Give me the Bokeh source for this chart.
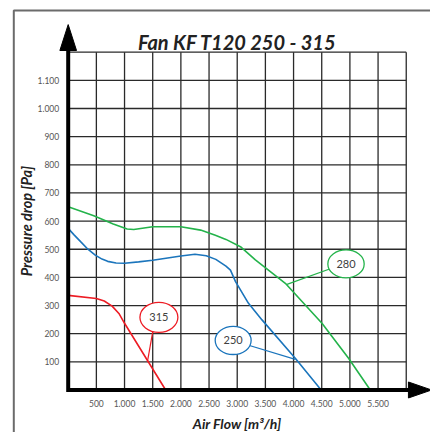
import math
from bokeh.plotting import figure
from bokeh.models import Range1d, FixedTicker, Label
from bokeh.core.properties import value
from bokeh.embed import file_html
from bokeh.resources import INLINE

# ---------------- data ----------------
title_text = "Fan KF T120 250 - 315"
x_label = "Air Flow [m³/h]"
y_label = "Pressure drop [Pa]"

x_ticks = [500, 1000, 1500, 2000, 2500, 3000, 3500, 4000, 4500, 5000, 5500]
x_tick_labels = ["500", "1.000", "1.500", "2.000", "2.500", "3.000",
                 "3.500", "4.000", "4.500", "5.000", "5.500"]
y_ticks = [100, 200, 300, 400, 500, 600, 700, 800, 900, 1000, 1100]
y_tick_labels = ["100", "200", "300", "400", "500", "600", "700",
                 "800", "900", "1.000", "1.100"]
grid_x = [500, 1000, 1500, 2000, 2500, 3000, 3500, 4000, 4500, 5000, 5500, 6000]
grid_y = [100, 200, 300, 400, 500, 600, 700, 800, 900, 1000, 1100, 1200]
x_max = 6000
y_max = 1200

# fan 315 (red)
red_x = [0, 500, 640, 780, 900, 1000, 1730]
red_y = [336, 325, 316, 298, 272, 237, 0]
# fan 250 (blue)
blue_x = [0, 100, 220, 350, 480, 600, 700, 850, 1000, 1250, 1500, 2000,
          2250, 2450, 2620, 2800, 2880, 2970, 3200, 3440, 4030, 4490]
blue_y = [574, 552, 527, 500, 479, 465, 457, 451, 450, 455, 461, 476,
          482, 477, 464, 440, 426, 385, 308, 249, 113, 0]
# fan 280 (green)
green_x = [0, 454, 800, 1046, 1164, 1500, 2000, 2350, 2612, 2800, 3057,
           3322, 3854, 4504, 4976, 5362]
green_y = [651, 619, 590, 572, 570, 580, 580, 568, 550, 535, 509,
           462, 379, 237, 113, 0]

callout_names = ["315", "250", "280"]
callout_x = [1610, 2928, 4931]
callout_y = [258, 176, 448]
callout_w = [674, 638, 645]
callout_h = [106, 100, 99]
leader_x0 = [1530, 3100, 4750]
leader_y0 = [240, 165, 438]
leader_x1 = [1405, 4031, 3883]
leader_y1 = [99, 109, 375]
callout_colors = ["#ed1c24", "#1b75bc", "#24b34b"]

# ---------------- figure ----------------
p = figure(width=430, height=432,
           x_range=Range1d(-1006.4, 6430.6), y_range=Range1d(-151.0, 1355.2),
           output_backend="svg", toolbar_location=None,
           min_border_left=11, min_border_top=8, min_border_right=0, min_border_bottom=0)
p.outline_line_color = None
p.grid.visible = False
p.background_fill_color = "white"
p.border_fill_color = "white"

for ax in (p.xaxis[0], p.yaxis[0]):
    ax.fixed_location = 0
    ax.axis_line_color = None
    ax.major_tick_line_color = None
    ax.minor_tick_line_color = None
    ax.major_tick_in = 0
    ax.major_tick_out = 0
    ax.major_label_text_font = "Lato"
    ax.major_label_text_font_size = "8.5px"
    ax.major_label_text_color = "#555555"

p.xaxis.ticker = FixedTicker(ticks=x_ticks)
p.xaxis.major_label_overrides = dict(zip(x_ticks, x_tick_labels))
p.xaxis.major_label_standoff = 10
p.yaxis.ticker = FixedTicker(ticks=y_ticks)
p.yaxis.major_label_overrides = dict(zip(y_ticks, y_tick_labels))
p.yaxis.major_label_standoff = 9

# outer border (top and left)
p.line(x=[-965.6, -965.6, 6500], y=[-200, 1348, 1348], line_color="#6b6b6b", line_width=2)

# grid
p.segment(x0=grid_x, y0=[0] * len(grid_x), x1=grid_x, y1=[y_max] * len(grid_x),
          line_color="#2a2a2a", line_width=1.3)
p.segment(x0=[0] * len(grid_y), y0=grid_y, x1=[x_max] * len(grid_y), y1=grid_y,
          line_color="#2a2a2a", line_width=1.3)

# curves
p.line(red_x, red_y, line_color=callout_colors[0], line_width=1.6)
p.line(blue_x, blue_y, line_color=callout_colors[1], line_width=1.6)
p.line(green_x, green_y, line_color=callout_colors[2], line_width=1.6)

# callouts
p.segment(x0=leader_x0, y0=leader_y0, x1=leader_x1, y1=leader_y1,
          line_color=callout_colors, line_width=1.2)
p.ellipse(x=callout_x, y=callout_y, width=callout_w, height=callout_h,
          fill_color="white", line_color=callout_colors, line_width=1.3)
p.text(x=callout_x, y=callout_y, text=callout_names, text_align="center",
       text_baseline="middle", text_font=value("Lato"), text_font_size="11px",
       text_color="#404040")

# axes with arrows
p.line(x=[0, 0, 6045], y=[1210, 0, 0], line_color="black", line_width=4, line_join="miter")
p.patch(x=[-148, 148, 0], y=[1206, 1206, 1298], color="black")
p.patch(x=[6039, 6039, 6450], y=[-28.4, 28.4, 0], color="black")

# texts
p.add_layout(Label(x=3000, y=1236, text=title_text, text_align="center",
                   text_baseline="alphabetic", text_font="Lato", text_font_style="bold italic",
                   text_font_size="20px", text_color="#222222"))
p.add_layout(Label(x=3000, y=-118, text=x_label, text_align="center",
                   text_baseline="middle", text_font="Lato", text_font_style="bold italic",
                   text_font_size="14px", text_color="#222222"))
p.add_layout(Label(x=-739, y=600, text=y_label, angle=math.pi / 2, text_align="center",
                   text_baseline="middle", text_font="Lato", text_font_style="bold italic",
                   text_font_size="14.5px", text_color="#222222"))

open("out.html", "w").write(file_html(p, INLINE))
